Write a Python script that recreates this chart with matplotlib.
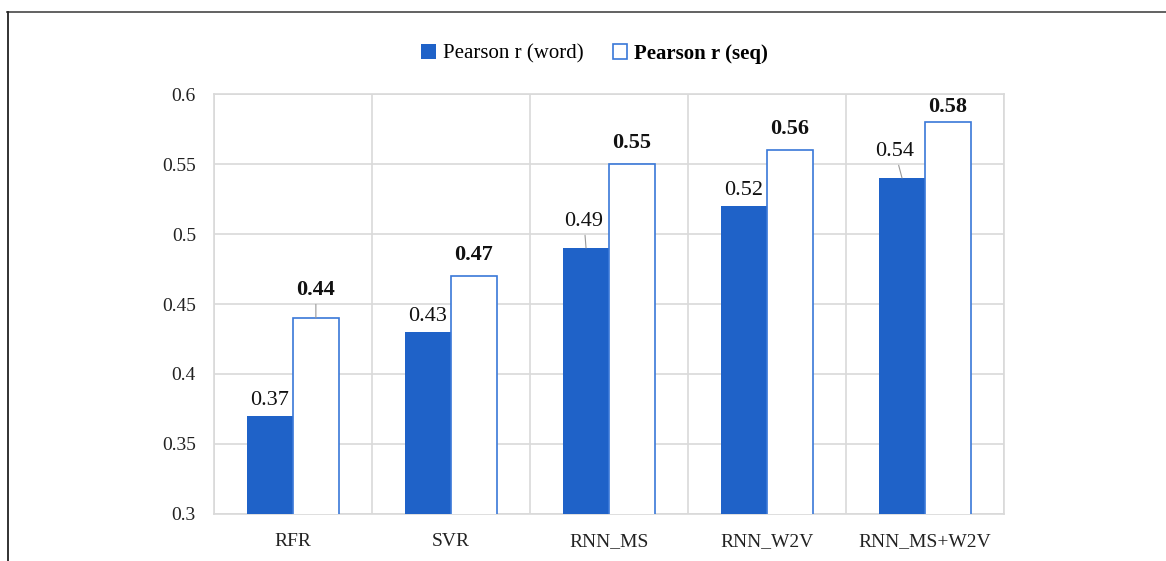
import numpy as np
import matplotlib
import matplotlib.pyplot as plt
from matplotlib.lines import Line2D

matplotlib.use('Agg')

plt.rcParams['font.family'] = ['Liberation Serif', 'DejaVu Serif']

models = ["RFR", "SVR", "RNN_MS", "RNN_W2V", "RNN_MS+W2V"]
pearson_word = [0.37, 0.43, 0.49, 0.52, 0.54]
pearson_seq = [0.44, 0.47, 0.55, 0.56, 0.58]
y_ticks = [0.3, 0.35, 0.4, 0.45, 0.5, 0.55, 0.6]
y_tick_labels = ["0.3", "0.35", "0.4", "0.45", "0.5", "0.55", "0.6"]

BLUE = "#1f62c8"
EDGE = "#3a78d8"
GRID = "#d9d9d9"

fig = plt.figure(figsize=(11.66, 5.61), dpi=100)
ax = fig.add_axes([0.1835, 0.0838, 0.6775, 0.7486])

x = np.arange(len(models))
width = 0.29
bars_word = ax.bar(x - width / 2, pearson_word, width, color=BLUE,
                   linewidth=0, zorder=3, label="Pearson r (word)")
bars_seq = ax.bar(x + width / 2, pearson_seq, width, color="white",
                  edgecolor=EDGE, linewidth=1.2, zorder=3, label="Pearson r (seq)")

ax.set_xlim(-0.5, len(models) - 0.5)
ax.set_ylim(0.3, 0.6)
ax.set_yticks(y_ticks)
ax.set_yticklabels(y_tick_labels, fontsize=14)
ax.set_xticks(x)
ax.set_xticklabels(models, fontsize=14)
ax.tick_params(axis='both', length=0, colors="#222222")
ax.tick_params(axis='x', pad=14)
ax.tick_params(axis='y', pad=13)

# horizontal grid on the ticks, vertical lines between the groups
ax.yaxis.grid(True, color=GRID, linewidth=1.2, zorder=0)
ax.set_xticks(np.arange(len(models) + 1) - 0.5, minor=True)
ax.tick_params(axis='x', which='minor', length=0)
ax.xaxis.grid(True, which='minor', color=GRID, linewidth=1.2, zorder=0)
for spine in ax.spines.values():
    spine.set_color(GRID)
    spine.set_linewidth(1.2)

# value labels; a few sit higher with a small leader line
leader_word = {2: -1.5, 4: -5}
leader_seq = {0: 0}
top_offset = {4: 11}
for i, bar in enumerate(bars_word):
    cx = bar.get_x() + bar.get_width() / 2
    v = pearson_word[i]
    if i in leader_word:
        ax.annotate(f"{v:.2f}", (cx, v), xytext=(leader_word[i], 19), textcoords='offset points',
                    ha='center', va='center', fontsize=16, color="#111111",
                    arrowprops=dict(arrowstyle='-', color="#999999", lw=0.8, shrinkA=1, shrinkB=0))
    else:
        ax.annotate(f"{v:.2f}", (cx, v), xytext=(0, 11), textcoords='offset points',
                    ha='center', va='center', fontsize=16, color="#111111")
for i, bar in enumerate(bars_seq):
    cx = bar.get_x() + bar.get_width() / 2
    v = pearson_seq[i]
    if i in leader_seq:
        ax.annotate(f"{v:.2f}", (cx, v), xytext=(0, 20), textcoords='offset points',
                    ha='center', va='center', fontsize=16, fontweight='bold', color="#111111",
                    arrowprops=dict(arrowstyle='-', color="#999999", lw=0.8, shrinkA=1, shrinkB=0))
    else:
        ax.annotate(f"{v:.2f}", (cx, v), xytext=(0, top_offset.get(i, 15)), textcoords='offset points',
                    ha='center', va='center', fontsize=16, fontweight='bold', color="#111111")

leg = fig.legend(handles=[bars_word, bars_seq], loc='center', bbox_to_anchor=(0.51, 0.904),
                 ncol=2, frameon=False, fontsize=15, handlelength=0.7, handleheight=0.7,
                 handletextpad=0.35, columnspacing=1.4)
leg.get_texts()[1].set_fontweight('bold')

# page frame along the top and left
fig.add_artist(Line2D([0.006, 1.0], [0.9786, 0.9786], transform=fig.transFigure,
                      color="#555555", linewidth=1.3))
fig.add_artist(Line2D([0.0069, 0.0069], [0.0, 0.9786], transform=fig.transFigure,
                      color="#222222", linewidth=1.3))

fig.savefig("out.png", dpi=100)
